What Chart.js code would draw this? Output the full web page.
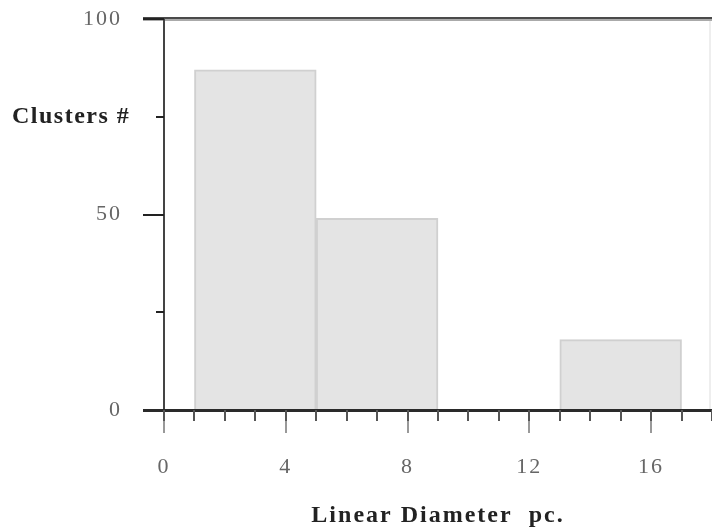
<!DOCTYPE html>
<html>
<head>
<meta charset="utf-8">
<script src="https://cdn.jsdelivr.net/npm/chart.js@4.4.0/dist/chart.umd.min.js"></script>
<style>
html, body { margin: 0; padding: 0; background: #fff; }
</style>
</head>
<body>
<canvas id="hist_canvas" width="712" height="531"></canvas>
<script>

// histogram bins (pc) and counts
var bin_start = [1, 5, 13];
var bin_end = [5, 9, 17];
var cluster_counts = [87, 49, 18];

var x_tick_labels = [0, 4, 8, 12, 16];
var y_tick_labels = [0, 50, 100];

var y_title = 'Clusters #';
var x_title = 'Linear Diameter  pc.';


var bar_data = [];
for (var i = 0; i < cluster_counts.length; i++)
{
  bar_data.push({ x: (bin_start[i] + bin_end[i]) / 2, y: cluster_counts[i] });
}

var serif = '"Liberation Serif", "Times New Roman", serif';

var axis_marks = {
  id: 'axis_marks',
  beforeDraw: function(chart)
  {
    chart.ctx.letterSpacing = '2px';
  },
  afterDraw: function(chart)
  {
    var ctx = chart.ctx;
    var xs = chart.scales.x;
    var ys = chart.scales.y;
    var area = chart.chartArea;
    var y0 = ys.getPixelForValue(0);
    var ytop = ys.getPixelForValue(100);
    var x0 = xs.getPixelForValue(0);

    ctx.save();
    ctx.letterSpacing = '0px';

    // faint right edge
    ctx.fillStyle = '#eeeeee';
    ctx.fillRect(area.right - 3, ytop, 2, y0 - ytop);

    // top frame line
    ctx.fillStyle = '#4a4a4a';
    ctx.fillRect(x0 - 21, ytop - 2, area.right - x0 + 21, 2);
    ctx.fillStyle = '#aaaaaa';
    ctx.fillRect(x0 - 21, ytop, area.right - x0 + 21, 2);

    // y axis + ticks
    ctx.fillStyle = '#444444';
    ctx.fillRect(x0 - 1, ytop, 2, y0 - ytop + 23);
    for (var v = 0; v <= 100; v += 25)
    {
      var py = Math.round(ys.getPixelForValue(v));
      var len = (v % 50 === 0) ? 21 : 8;
      ctx.fillStyle = '#222222';
      ctx.fillRect(x0 - len, py - 1, len, 2);
    }

    // x axis + ticks
    ctx.fillStyle = '#2a2a2a';
    ctx.fillRect(x0 - 21, y0 - 1, area.right - x0 + 21, 3);
    for (var t = 0; t <= 18; t++)
    {
      var px = Math.round(xs.getPixelForValue(t));
      ctx.fillStyle = '#555555';
      ctx.fillRect(px - 1, y0, 2, 11);
      if (t % 4 === 0)
      {
        ctx.fillStyle = '#999999';
        ctx.fillRect(px - 1, y0 + 11, 2, 12);
      }
    }

    // titles
    ctx.letterSpacing = '1.5px';
    ctx.fillStyle = '#222222';
    ctx.font = 'bold 24px ' + serif;
    ctx.textAlign = 'left';
    ctx.textBaseline = 'middle';
    ctx.fillText(y_title, 12, ys.getPixelForValue(75));

    ctx.letterSpacing = '2px';
    ctx.textAlign = 'center';
    ctx.fillText(x_title, (area.left + area.right) / 2, 516);

    ctx.restore();
  }
};

var no_pad = function(scale)
{
  scale.paddingTop = 0;
  scale.paddingBottom = 0;
  scale.paddingLeft = 0;
  scale.paddingRight = 0;
};

var hist_chart = document.getElementById('hist_canvas').getContext('2d');

new Chart(hist_chart, {
  type: 'bar',
  data: {
    datasets: [
      {
        label: '',
        data: bar_data,
        backgroundColor: '#e4e4e4',
        borderColor: '#d0d0d0',
        borderWidth: 2,
        barPercentage: 1,
        categoryPercentage: 1
      }]
  },
  options: {
    responsive: false,
    animation: false,
    events: [],
    layout: { padding: { top: 19, right: 0, left: 0, bottom: 0 } },
    plugins: {
      legend: { display: false },
      tooltip: { enabled: false }
    },
    scales: {
      x: {
        type: 'linear',
        offset: false,
        min: 0,
        max: 18,
        grid: { display: false, drawTicks: false, tickLength: 0 },
        border: { display: false },
        ticks: {
          stepSize: 4,
          includeBounds: false,
          autoSkip: false,
          maxRotation: 0,
          padding: 44,
          color: '#666666',
          font: { family: serif, size: 22 },
          callback: function(value) {
            return x_tick_labels.indexOf(value) >= 0 ? String(value) : '';
          }
        },
        afterFit: function(scale) { no_pad(scale); scale.height = 121; }
      },
      y: {
        min: 0,
        max: 100,
        grid: { display: false, drawTicks: false, tickLength: 0 },
        border: { display: false },
        ticks: {
          stepSize: 25,
          padding: 42,
          color: '#666666',
          font: { family: serif, size: 22 },
          callback: function(value) {
            return y_tick_labels.indexOf(value) >= 0 ? String(value) : '';
          }
        },
        afterFit: function(scale) { no_pad(scale); scale.width = 164; }
      }
    }
  },
  plugins: [axis_marks]
});

</script>
</body>
</html>
